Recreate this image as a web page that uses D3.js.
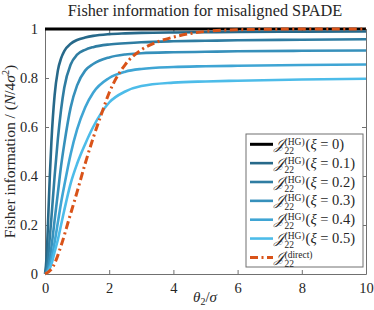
<!DOCTYPE html>
<html>
<head>
<meta charset="utf-8">
<script src="https://cdn.jsdelivr.net/npm/d3@7"></script>
<style>
  body { margin: 0; background: #fff; }
  svg { display: block; }
  text { font-family: "Liberation Serif", "DejaVu Serif", serif; fill: #262626; }
</style>
</head>
<body>
<svg id="chart" width="374" height="310"></svg>
<script>
// theta_2 / sigma grid the curves were read at
const theta = [0, 0.05, 0.1, 0.15, 0.2, 0.3, 0.4, 0.5, 0.6, 0.8, 1, 1.25, 1.5, 2, 2.5, 3, 4, 5, 6, 8, 10];

// HG (SPADE) Fisher information, one array per misalignment xi
const thetaFlat = [0, 10];
const fiXi0 = [1, 1];
const fiXi01 = [0, 0.07, 0.23, 0.40, 0.54, 0.73, 0.83, 0.88, 0.91, 0.94, 0.955, 0.965, 0.972, 0.979, 0.982, 0.984, 0.986, 0.987, 0.988, 0.989, 0.990];
const fiXi02 = [0, 0.02, 0.07, 0.15, 0.23, 0.40, 0.55, 0.67, 0.76, 0.855, 0.895, 0.915, 0.926, 0.937, 0.942, 0.946, 0.950, 0.952, 0.954, 0.956, 0.958];
const fiXi03 = [0, 0.008, 0.03, 0.065, 0.11, 0.22, 0.33, 0.44, 0.53, 0.68, 0.77, 0.83, 0.857, 0.884, 0.896, 0.901, 0.905, 0.907, 0.909, 0.911, 0.912];
const fiXi04 = [0, 0.004, 0.016, 0.035, 0.062, 0.13, 0.21, 0.29, 0.36, 0.49, 0.59, 0.68, 0.74, 0.80, 0.826, 0.837, 0.845, 0.848, 0.850, 0.853, 0.855];
const fiXi05 = [0, 0.003, 0.01, 0.023, 0.04, 0.09, 0.14, 0.20, 0.26, 0.37, 0.45, 0.53, 0.60, 0.70, 0.745, 0.767, 0.781, 0.786, 0.789, 0.794, 0.797];

// direct imaging
const thetaDirect = [0, 0.25, 0.5, 0.75, 1, 1.25, 1.5, 1.75, 2, 2.5, 3, 3.5, 4, 4.5, 5, 6, 7, 8, 10];
const fiDirect = [0, 0.03, 0.115, 0.225, 0.335, 0.45, 0.555, 0.65, 0.74, 0.855, 0.915, 0.947, 0.967, 0.981, 0.99, 0.997, 0.999, 1, 1];

const xiLabels = ["0", "0.1", "0.2", "0.3", "0.4", "0.5"];
const xTicks = [0, 2, 4, 6, 8, 10];
const yTicks = [0, 0.2, 0.4, 0.6, 0.8, 1];
const yTickLabels = ["0", "0.2", "0.4", "0.6", "0.8", "1"];

const svg = d3.select("#chart");
const margin = { left: 45, right: 8, top: 29, bottom: 36 };
const width = 374, height = 310;

const x = d3.scaleLinear().domain([0, 10]).range([margin.left, width - margin.right]);
const y = d3.scaleLinear().domain([0, 1]).range([height - margin.bottom, margin.top]);

const axisColor = "#707070";

// axes, ticks pointing inward, full box
const axBottom = svg.append("g")
  .attr("transform", `translate(0,${y(0)})`)
  .call(d3.axisBottom(x).tickValues(xTicks).tickSizeInner(-4).tickSizeOuter(0).tickPadding(9));
const axLeft = svg.append("g")
  .attr("transform", `translate(${x(0)},0)`)
  .call(d3.axisLeft(y).tickValues(yTicks).tickFormat((d, i) => yTickLabels[i]).tickSizeInner(-4).tickSizeOuter(0).tickPadding(7));
const axTop = svg.append("g")
  .attr("transform", `translate(0,${y(1)})`)
  .call(d3.axisTop(x).tickValues(xTicks).tickSizeInner(-4).tickSizeOuter(0).tickFormat(""));
const axRight = svg.append("g")
  .attr("transform", `translate(${x(10)},0)`)
  .call(d3.axisRight(y).tickValues(yTicks).tickSizeInner(-4).tickSizeOuter(0).tickFormat(""));

[axBottom, axLeft, axTop, axRight].forEach((g) => {
  g.selectAll("path, line").attr("stroke", axisColor);
  g.selectAll("text")
    .attr("font-size", 14.5)
    .attr("fill", "#262626");
});

const line = d3.line()
  .x((d) => x(d[0]))
  .y((d) => y(d[1]))
  .curve(d3.curveMonotoneX);

const series = [
  { xs: thetaFlat, ys: fiXi0, color: "#000000", width: 3 },
  { xs: theta, ys: fiXi01, color: "#27698a", width: 2.6 },
  { xs: theta, ys: fiXi02, color: "#2f7da2", width: 2.6 },
  { xs: theta, ys: fiXi03, color: "#3690bb", width: 2.6 },
  { xs: theta, ys: fiXi04, color: "#3fa5d4", width: 2.6 },
  { xs: theta, ys: fiXi05, color: "#4dbce9", width: 2.6 },
];

series.forEach((s) => {
  svg.append("path")
    .attr("d", line(s.xs.map((t, i) => [t, s.ys[i]])))
    .attr("fill", "none")
    .attr("stroke", s.color)
    .attr("stroke-width", s.width);
});

const directDash = "8,3.5,2,3.5";
svg.append("path")
  .attr("d", line(thetaDirect.map((t, i) => [t, fiDirect[i]])))
  .attr("fill", "none")
  .attr("stroke", "#d95319")
  .attr("stroke-width", 3)
  .attr("stroke-dasharray", directDash);

// title
svg.append("text")
  .attr("x", 205)
  .attr("y", 16)
  .attr("text-anchor", "middle")
  .attr("font-size", 16.3)
  .text("Fisher information for misaligned SPADE");

// x label
const xl = svg.append("text")
  .attr("x", 205)
  .attr("y", 302)
  .attr("text-anchor", "middle")
  .attr("font-size", 15);
xl.append("tspan").attr("font-style", "italic").text("θ");
xl.append("tspan").attr("font-size", 10).attr("dy", 3).text("2");
xl.append("tspan").attr("dy", -3).text("/");
xl.append("tspan").attr("font-style", "italic").text("σ");

// y label
const yl = svg.append("text")
  .attr("transform", `translate(15,${(y(0) + y(1)) / 2}) rotate(-90)`)
  .attr("text-anchor", "middle")
  .attr("font-size", 15.5);
yl.append("tspan").text("Fisher information / (");
yl.append("tspan").attr("font-style", "italic").text("N");
yl.append("tspan").text("/4");
yl.append("tspan").attr("font-style", "italic").text("σ");
yl.append("tspan").attr("font-size", 10).attr("dy", -6).text("2");
yl.append("tspan").attr("dy", 6).text(")");

// legend
const legend = svg.append("g");
const lx0 = 246, lx1 = 363, ly0 = 134, ly1 = 267;
legend.append("rect")
  .attr("x", lx0).attr("y", ly0)
  .attr("width", lx1 - lx0).attr("height", ly1 - ly0)
  .attr("fill", "#fff")
  .attr("stroke", axisColor)
  .attr("stroke-width", 1);

const rowY = (i) => 144.3 + i * 18.85;

function jLabel(g, tx, cy, sup, tail) {
  const j = g.append("text")
    .attr("x", tx).attr("y", cy + 4.5)
    .attr("font-size", 14.5)
    .attr("font-style", "italic")
    .text("𝒥");
  const jw = j.node().getComputedTextLength();
  const s = g.append("text")
    .attr("x", tx + jw + 0.5).attr("y", cy + 0.5)
    .attr("font-size", 9.5)
    .text(sup);
  g.append("text")
    .attr("x", tx + jw + 0.5).attr("y", cy + 9.5)
    .attr("font-size", 9.5)
    .text("22");
  const sw = s.node().getComputedTextLength();
  if (tail !== null) {
    const t = g.append("text")
      .attr("x", tx + jw + sw + 1.5).attr("y", cy + 4.5)
      .attr("font-size", 14.5);
    t.append("tspan").text("(");
    t.append("tspan").attr("font-style", "italic").text("ξ");
    t.append("tspan").text(" = " + tail + ")");
  }
}

series.forEach((s, i) => {
  const cy = rowY(i);
  legend.append("line")
    .attr("x1", 250).attr("x2", 273)
    .attr("y1", cy).attr("y2", cy)
    .attr("stroke", s.color)
    .attr("stroke-width", s.width);
  jLabel(legend, 274, cy, "(HG)", xiLabels[i]);
});

const dcy = rowY(6);
legend.append("line")
  .attr("x1", 250).attr("x2", 273)
  .attr("y1", dcy).attr("y2", dcy)
  .attr("stroke", "#d95319")
  .attr("stroke-width", 3)
  .attr("stroke-dasharray", directDash);
jLabel(legend, 274, dcy, "(direct)", null);
</script>
</body>
</html>
